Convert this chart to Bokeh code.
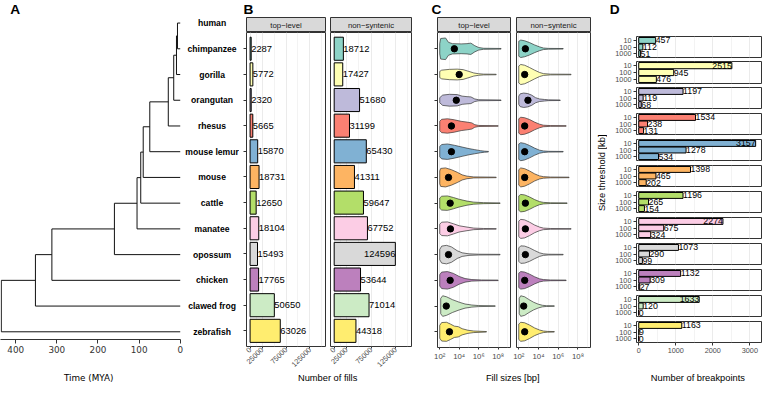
import math
from bokeh.plotting import figure
from bokeh.layouts import row, column
from bokeh.models import (Range1d, FixedTicker, LinearAxis, LogAxis, LogScale, Grid,
                          NumeralTickFormatter, CustomLabelingPolicy)
from bokeh.core.properties import value
from bokeh.embed import file_html
from bokeh.resources import INLINE

# ---------------------------------------------------------------- data
species = ["human", "chimpanzee", "gorilla", "orangutan", "rhesus", "mouse lemur", "mouse",
           "cattle", "manatee", "opossum", "chicken", "clawed frog", "zebrafish"]
join_age_mya = [6.7, 9.1, 15.8, 29.0, 74.0, 90.0, 96.0, 105.0, 160.0, 312.0, 352.0, 435.0]
time_ticks = [0, 100, 200, 300, 400]
species_colors = ["#8DD3C7", "#FFFFB3", "#BEBADA", "#FB8072", "#80B1D3", "#FDB462",
                  "#B3DE69", "#FCCDE5", "#D9D9D9", "#BC80BD", "#CCEBC5", "#FFED6F"]

fills_top_level = [2287, 5772, 2320, 5665, 15870, 18731, 12650, 18104, 15493, 17765, 50650, 63026]
fills_non_syntenic = [18712, 17427, 51680, 31199, 65430, 41311, 59647, 67752, 124596, 53644, 71014, 44318]
fill_ticks = [0, 25000, 75000, 125000]
fill_minor = [12500, 50000, 100000, 150000]

size_ticks_bp = [1e2, 1e4, 1e6, 1e8]
size_tick_labels = ["10²", "10⁴", "10⁶", "10⁸"]
size_minor_bp = [1e3, 1e5, 1e7, 1e9]
top_median_log10 = [3.5, 4.0, 3.7, 3.2, 3.2, 2.9, 3.07, 3.1, 2.9, 3.07, 2.67, 3.0]
nonsyn_median_log10 = [2.67, 2.6, 2.93, 2.6, 2.6, 2.6, 2.67, 2.67, 2.67, 2.6, 2.5, 2.6]
# violin outlines: (log10 fill size, half width in rows)
top_profiles = [
    [(2.0, .20), (2.1, .40), (2.6, .42), (2.9, .25), (3.3, .20), (4.2, .19), (4.8, .20), (5.2, .22), (5.6, .12), (6.0, .05), (6.5, .02), (8.3, .012)],
    [(2.0, .12), (2.2, .17), (3.0, .20), (3.8, .21), (4.4, .19), (5.0, .12), (5.5, .06), (6.0, .03), (6.5, .015), (7.8, .01)],
    [(2.0, .10), (2.3, .20), (3.0, .23), (3.8, .22), (4.3, .16), (4.8, .14), (5.2, .13), (5.6, .05), (6.0, .02), (8.3, .01)],
    [(2.0, .18), (2.2, .26), (2.8, .28), (3.5, .24), (4.2, .18), (4.8, .15), (5.3, .12), (5.6, .05), (6.0, .02), (8.0, .01)],
    [(2.0, .20), (2.2, .28), (2.8, .30), (3.5, .25), (4.3, .18), (5.0, .12), (5.6, .08), (6.2, .04), (6.6, .02), (7.0, .01)],
    [(2.0, .25), (2.1, .35), (2.6, .37), (3.2, .30), (3.8, .20), (4.3, .10), (4.8, .05), (5.5, .02), (7.8, .01)],
    [(2.0, .20), (2.2, .27), (2.8, .28), (3.4, .22), (4.0, .15), (4.8, .08), (5.5, .04), (6.5, .02), (8.2, .01)],
    [(2.0, .18), (2.2, .26), (2.8, .27), (3.4, .20), (4.0, .12), (4.8, .07), (5.5, .03), (6.5, .015), (7.8, .01)],
    [(2.0, .20), (2.2, .33), (2.7, .36), (3.2, .30), (3.8, .15), (4.3, .07), (5.0, .03), (6.0, .015), (8.2, .01)],
    [(2.0, .22), (2.2, .32), (2.8, .34), (3.4, .27), (4.0, .15), (4.6, .07), (5.3, .03), (6.3, .015), (8.0, .01)],
    [(2.1, .30), (2.3, .40), (2.7, .36), (3.3, .25), (4.0, .15), (4.6, .08), (5.3, .04), (6.0, .02), (7.7, .01)],
    [(2.0, .25), (2.2, .36), (2.7, .37), (3.1, .30), (3.5, .22), (3.9, .20), (4.3, .12), (4.9, .06), (5.5, .03), (6.8, .01)],
]
nonsyn_profiles = [
    [(2.0, .29), (2.2, .34), (2.6, .31), (3.1, .24), (3.6, .15), (4.1, .075), (4.5, .03), (5.0, .015), (6.5, .01)],
    [(2.0, .33), (2.2, .39), (2.6, .36), (3.1, .27), (3.6, .17), (4.1, .08), (4.5, .035), (5.2, .015), (7.3, .01)],
    [(2.0, .16), (2.15, .25), (2.5, .28), (2.9, .26), (3.3, .20), (3.7, .10), (4.1, .05), (4.6, .03), (5.0, .015), (6.2, .01)],
    [(2.0, .28), (2.2, .34), (2.6, .32), (3.1, .25), (3.6, .15), (4.1, .07), (4.5, .03), (5.2, .015), (6.8, .01)],
    [(2.0, .30), (2.2, .35), (2.6, .32), (3.1, .24), (3.6, .14), (4.1, .06), (4.5, .03), (5.0, .015), (6.5, .01)],
    [(2.0, .30), (2.2, .37), (2.6, .34), (3.1, .25), (3.6, .14), (4.1, .06), (4.5, .03), (5.2, .015), (7.1, .01)],
    [(2.0, .28), (2.2, .34), (2.6, .32), (3.1, .24), (3.6, .14), (4.1, .06), (4.5, .03), (5.2, .015), (6.9, .01)],
    [(2.0, .30), (2.2, .37), (2.6, .35), (3.1, .26), (3.6, .15), (4.1, .07), (4.5, .03), (5.2, .015), (7.3, .01)],
    [(2.0, .26), (2.2, .34), (2.6, .33), (3.1, .26), (3.6, .16), (4.1, .07), (4.5, .03), (5.0, .015), (6.5, .01)],
    [(2.0, .28), (2.2, .34), (2.6, .32), (3.1, .24), (3.6, .14), (4.1, .06), (4.5, .03), (5.2, .015), (6.8, .01)],
    [(2.05, .30), (2.2, .40), (2.6, .36), (3.0, .26), (3.5, .15), (4.0, .07), (4.4, .03), (4.8, .015), (5.6, .01)],
    [(2.0, .30), (2.2, .37), (2.6, .35), (3.1, .26), (3.6, .15), (4.1, .07), (4.5, .03), (4.9, .015), (5.6, .01)],
]

thresholds_kb = ["10", "100", "1000"]
breakpoints_10kb = [457, 2515, 1197, 1534, 3157, 1398, 1196, 2274, 1073, 1132, 1633, 1163]
breakpoints_100kb = [112, 945, 119, 238, 1278, 465, 265, 675, 290, 309, 120, 9]
breakpoints_1000kb = [51, 476, 68, 131, 534, 202, 154, 324, 99, 27, 0, 0]
breakpoint_ticks = [0, 1000, 2000, 3000]
breakpoint_minor = [500, 1500, 2500]

# ---------------------------------------------------------------- geometry
W, H = 762, 384
SX, SY = W / 778.0, H / 400.0
SANS = "Liberation Sans"
TREEF = "DejaVu Sans"
ROW0, ROWH = 23.5, 26.8
GRID = "#EBEBEB"
DARK = "#333333"
AXTXT = "#4D4D4D"
TOPB = 18  # bottom of the panel-letter strip (reference px)


def px_x(v):
    return int(round(v * SX))


def px_y(v):
    return int(round(v * SY))


def ex(v):
    return px_x(v) / SX


def ey(v):
    return px_y(v) / SY


def row_idx(yref):
    return (yref - ROW0) / ROWH


def fs(size):
    return "%.1fpx" % (size * SX)


def make_fig(cx0, cx1, fx0, fx1, cy0, cy1, fy0, fy1, x_range, y_range):
    p = figure(width=px_x(cx1) - px_x(cx0), height=px_y(cy1) - px_y(cy0),
               x_range=x_range, y_range=y_range, x_axis_type=None, y_axis_type=None,
               toolbar_location=None, output_backend="svg",
               min_border_left=px_x(fx0) - px_x(cx0), min_border_right=px_x(cx1) - px_x(fx1),
               min_border_top=px_y(fy0) - px_y(cy0), min_border_bottom=px_y(cy1) - px_y(fy1))
    p.outline_line_color = None
    p.background_fill_color = "white"
    p.border_fill_color = "white"
    return p


def frame_style(p):
    p.outline_line_color = DARK
    p.outline_line_width = 1


def add_grid(p, ticks, minor):
    p.add_layout(Grid(dimension=0, ticker=FixedTicker(ticks=ticks, minor_ticks=minor),
                      grid_line_color=GRID, grid_line_width=1,
                      minor_grid_line_color=GRID, minor_grid_line_width=0.6))


def y_ticks_only(p, ticks):
    ax = LinearAxis(ticker=FixedTicker(ticks=ticks), major_label_text_font_size="1px",
                    major_label_policy=CustomLabelingPolicy(code="return new Set()"),
                    major_label_standoff=0, major_tick_out=3, major_tick_in=0,
                    major_tick_line_color=DARK, minor_tick_line_color=None, axis_line_color=None)
    p.add_layout(ax, "left")


# ---------------------------------------------------------------- top / bottom strips
top = make_fig(0, 778, 0, 778, 0, TOPB, 0, TOPB, Range1d(0, 778), Range1d(ey(TOPB), 0))
top.text(x=[10, 248, 440, 622], y=[9.0] * 4, text=["A", "B", "C", "D"],
         text_font=value(SANS), text_font_style="bold", text_font_size=value(fs(14)),
         text_baseline="middle", text_align="left", text_color="black")

bottom = make_fig(0, 778, 0, 778, 388, 400, 388, 400, Range1d(0, 778), Range1d(ey(400), ey(388)))
bottom.text(x=[90], y=[393.5], text=["Time (MYA)"], text_font=value(TREEF),
            text_font_size=value(fs(9)), text_baseline="middle", text_align="center", text_color="black")
bottom.text(x=[334, 523, 712], y=[393.5] * 3,
            text=["Number of fills", "Fill sizes [bp]", "Number of breakpoints"],
            text_font=value(SANS), text_font_size=value(fs(9.5)), text_baseline="middle",
            text_align="center", text_color="black")

# ---------------------------------------------------------------- A: tree
def mya(xref):
    return (183.5 - xref) / 0.42


pA = make_fig(0, 244, 0, 244, TOPB, 388, TOPB, 353,
              Range1d(mya(ex(0)), mya(ex(244))), Range1d(row_idx(ey(353)), row_idx(ey(TOPB))))
sx0, sy0, sx1, sy1 = [], [], [], []
clade_y, clade_age = 0.0, 0.0
for i, age in enumerate(join_age_mya, start=1):
    sx0 += [age, age, age]
    sy0 += [clade_y, i, clade_y]
    sx1 += [clade_age, 0.0, age]
    sy1 += [clade_y, i, i]
    clade_y, clade_age = (clade_y + i) / 2.0, age
pA.segment(x0=sx0, y0=sy0, x1=sx1, y1=sy1, line_color="#111111", line_width=1)
pA.text(x=[0.0] * len(species), y=list(range(len(species))), text=species,
        x_offset=(216 - 183.5) * SX, text_font=value(SANS), text_font_style="bold",
        text_font_size=value(fs(8.8)), text_align="center", text_baseline="middle", text_color="black")
axA = LinearAxis(ticker=FixedTicker(ticks=time_ticks), bounds=(0, mya(ex(0))),
                 major_label_text_font=TREEF, major_label_text_font_size=fs(9),
                 major_label_text_color=DARK, axis_line_color=DARK, major_tick_line_color=DARK,
                 major_tick_out=4, major_tick_in=0, minor_tick_line_color=None, major_label_standoff=2)
pA.add_layout(axA, "below")

# ---------------------------------------------------------------- helpers for facets
def strip(cx0, cx1, fx0, fx1, label):
    s = make_fig(cx0, cx1, fx0, fx1, TOPB, 33, TOPB, 33, Range1d(0, 1), Range1d(0, 1))
    s.background_fill_color = "#D9D9D9"
    frame_style(s)
    s.text(x=[0.5], y=[0.5], text=[label], text_font=value(SANS), text_font_size=value(fs(8)),
           text_align="center", text_baseline="middle", text_color="#1A1A1A")
    return s


rows = list(range(1, 13))


def fills_panel(cx0, cx1, fx0, fx1, vals, yticks):
    xr = Range1d(-7500, 157500)
    p = make_fig(cx0, cx1, fx0, fx1, 33, 388, 33, 361, xr, Range1d(row_idx(ey(361)), row_idx(ey(33))))
    frame_style(p)
    add_grid(p, fill_ticks, fill_minor)
    p.hbar(y=rows, left=0, right=vals, height=0.9, fill_color=species_colors,
           line_color="black", line_width=1)
    mid = 0.5 * (xr.start + xr.end)
    for align in ("left", "right"):
        sel = [k for k, v in enumerate(vals) if (v < mid) == (align == "left")]
        if sel:
            p.text(x=[vals[k] for k in sel], y=[rows[k] for k in sel], text=[str(vals[k]) for k in sel],
                   text_font=value(SANS), text_font_size=value(fs(9.6)), text_align=align,
                   text_baseline="middle", text_color="black")
    ax = LinearAxis(ticker=FixedTicker(ticks=fill_ticks), formatter=NumeralTickFormatter(format="0"),
                    major_label_orientation=math.pi / 4, major_label_text_font=SANS,
                    major_label_text_font_size=fs(7.5), major_label_text_color=AXTXT,
                    major_tick_out=2, major_tick_in=0, major_tick_line_color=DARK,
                    minor_tick_line_color=None, axis_line_color=None, major_label_standoff=0)
    p.add_layout(ax, "below")
    if yticks:
        y_ticks_only(p, rows)
    return p


def violin_panel(cx0, cx1, fx0, fx1, profiles, medians, yticks):
    p = make_fig(cx0, cx1, fx0, fx1, 33, 388, 33, 361, Range1d(10 ** 1.77, 10 ** 9.27),
                 Range1d(row_idx(ey(361)), row_idx(ey(33))))
    p.x_scale = LogScale()
    frame_style(p)
    add_grid(p, size_ticks_bp, size_minor_bp)
    xs, ys = [], []
    for r, prof in zip(rows, profiles):
        xs.append([10 ** l for l, h in prof] + [10 ** l for l, h in reversed(prof)])
        ys.append([r - h for l, h in prof] + [r + h for l, h in reversed(prof)])
    p.patches(xs=xs, ys=ys, fill_color=species_colors, line_color=DARK, line_width=0.7)
    p.scatter(x=[10 ** m for m in medians], y=rows, size=6.5 * SX, fill_color="black", line_color="black")
    ax = LogAxis(ticker=FixedTicker(ticks=size_ticks_bp),
                 major_label_overrides={int(t): lab for t, lab in zip(size_ticks_bp, size_tick_labels)},
                 major_label_text_font=SANS, major_label_text_font_size=fs(8),
                 major_label_text_color=AXTXT, major_tick_out=2, major_tick_in=0,
                 major_tick_line_color=DARK, minor_tick_line_color=None, axis_line_color=None,
                 major_label_standoff=2)
    p.add_layout(ax, "below")
    if yticks:
        y_ticks_only(p, rows)
    return p


colB1 = column(strip(244, 334, 248, 332, "top−level"),
               fills_panel(244, 334, 248, 332, fills_top_level, True))
colB2 = column(strip(334, 422, 337, 420, "non−syntenic"),
               fills_panel(334, 422, 337, 420, fills_non_syntenic, False))
colC1 = column(strip(422, 523, 446, 521, "top−level"),
               violin_panel(422, 523, 446, 521, top_profiles, top_median_log10, True))
colC2 = column(strip(523, 604, 527, 602, "non−syntenic"),
               violin_panel(523, 604, 527, 602, nonsyn_profiles, nonsyn_median_log10, False))

# ---------------------------------------------------------------- D
dT = make_fig(604, 620, 604, 620, TOPB, 388, TOPB, 388, Range1d(ex(604), ex(620)), Range1d(ey(388), ey(TOPB)))
dT.text(x=[614], y=[196], text=["Size threshold [kb]"], angle=math.pi / 2, text_font=value(SANS),
        text_font_size=value(fs(9.5)), text_align="center", text_baseline="middle", text_color="black")

d_panels = []
bounds = [TOPB] + [37 + 27 * i - 2.5 for i in range(1, 12)] + [388]
xrD = (-60, 3315)
midD = 0.5 * (xrD[0] + xrD[1])
for i in range(12):
    fy0, fy1 = 37 + 27 * i, 59 + 27 * i
    p = make_fig(620, 778, 649.5, 777, bounds[i], bounds[i + 1], fy0, fy1,
                 Range1d(*xrD), Range1d(3.6, 0.4))
    frame_style(p)
    add_grid(p, breakpoint_ticks, breakpoint_minor)
    vals = [breakpoints_10kb[i], breakpoints_100kb[i], breakpoints_1000kb[i]]
    ypos = [1, 2, 3]
    p.hbar(y=ypos, left=0, right=vals, height=0.9, fill_color=species_colors[i],
           line_color="black", line_width=1)
    for align in ("left", "right"):
        sel = [k for k, v in enumerate(vals) if (v < midD) == (align == "left")]
        if sel:
            p.text(x=[vals[k] for k in sel], y=[ypos[k] for k in sel], text=[str(vals[k]) for k in sel],
                   text_font=value(SANS), text_font_size=value(fs(9)), text_align=align,
                   text_baseline="middle", text_color="black")
    ay = LinearAxis(ticker=FixedTicker(ticks=ypos),
                    major_label_overrides={y: t for y, t in zip(ypos, thresholds_kb)},
                    major_label_text_font=SANS, major_label_text_font_size=fs(7.5),
                    major_label_text_color=AXTXT, major_tick_out=3, major_tick_in=0,
                    major_tick_line_color=DARK, minor_tick_line_color=None, axis_line_color=None,
                    major_label_standoff=2)
    p.add_layout(ay, "left")
    if i == 11:
        axd = LinearAxis(ticker=FixedTicker(ticks=breakpoint_ticks),
                         formatter=NumeralTickFormatter(format="0"),
                         major_label_text_font=SANS, major_label_text_font_size=fs(7.5),
                         major_label_text_color=AXTXT, major_tick_out=3, major_tick_in=0,
                         major_tick_line_color=DARK, minor_tick_line_color=None, axis_line_color=None,
                         major_label_standoff=2)
        p.add_layout(axd, "below")
    d_panels.append(p)

colD = column(*d_panels)

middle = row(pA, colB1, colB2, colC1, colC2, dT, colD)
layout = column(top, middle, bottom)

open("out.html", "w").write(file_html(layout, INLINE))
